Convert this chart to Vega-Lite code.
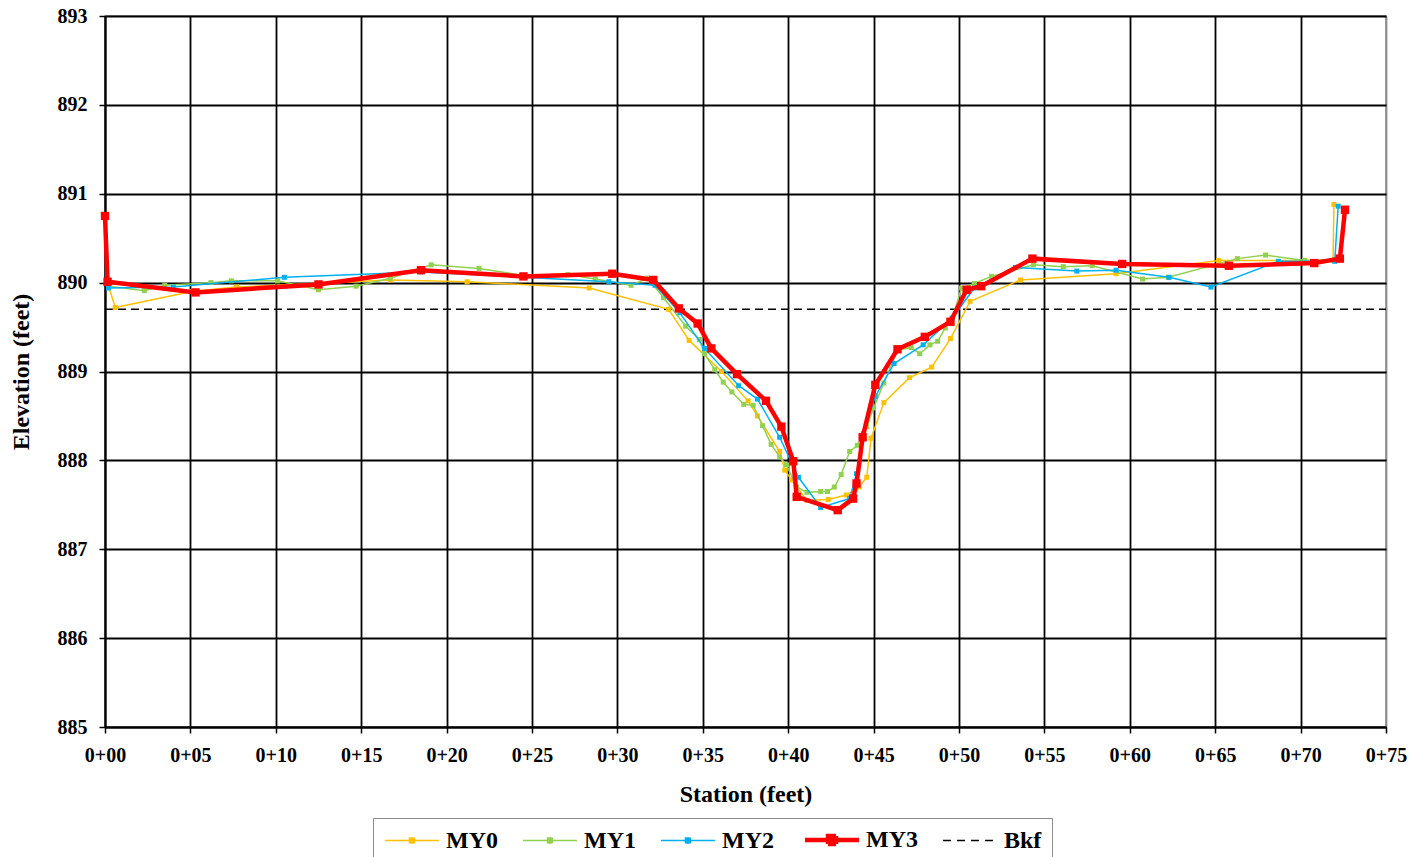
{
  "$schema": "https://vega.github.io/schema/vega-lite/v6.json",
  "width": 1281,
  "height": 711,
  "autosize": {"type": "none"},
  "padding": {"left": 105, "top": 16, "right": 40, "bottom": 130},
  "background": "white",
  "config": {
    "view": {"stroke": "#8c8c8c", "strokeWidth": 1.5},
    "font": "Liberation Serif"
  },
  "data": {
    "values": [
      {"s": "Bkf", "x": 0, "y": 889.7},
      {"s": "Bkf", "x": 75, "y": 889.7},

      {"s": "MY0", "x": 0, "y": 890.75},
      {"s": "MY0", "x": 0.2, "y": 889.97},
      {"s": "MY0", "x": 0.6, "y": 889.72},
      {"s": "MY0", "x": 5.07, "y": 889.9},
      {"s": "MY0", "x": 7.7, "y": 889.95},
      {"s": "MY0", "x": 16.7, "y": 890.03},
      {"s": "MY0", "x": 21.2, "y": 890.01},
      {"s": "MY0", "x": 28.35, "y": 889.94},
      {"s": "MY0", "x": 33.0, "y": 889.7},
      {"s": "MY0", "x": 34.2, "y": 889.35},
      {"s": "MY0", "x": 36.1, "y": 889.0},
      {"s": "MY0", "x": 37.65, "y": 888.67},
      {"s": "MY0", "x": 38.2, "y": 888.5},
      {"s": "MY0", "x": 39.5, "y": 888.1},
      {"s": "MY0", "x": 39.8, "y": 887.89},
      {"s": "MY0", "x": 40.2, "y": 887.78},
      {"s": "MY0", "x": 41.1, "y": 887.55},
      {"s": "MY0", "x": 42.35, "y": 887.56},
      {"s": "MY0", "x": 43.4, "y": 887.61},
      {"s": "MY0", "x": 44.15, "y": 887.7},
      {"s": "MY0", "x": 44.6, "y": 887.81},
      {"s": "MY0", "x": 44.85, "y": 888.25},
      {"s": "MY0", "x": 45.6, "y": 888.65},
      {"s": "MY0", "x": 47.1, "y": 888.93},
      {"s": "MY0", "x": 48.4, "y": 889.05},
      {"s": "MY0", "x": 49.5, "y": 889.37},
      {"s": "MY0", "x": 50.65, "y": 889.79},
      {"s": "MY0", "x": 53.6, "y": 890.03},
      {"s": "MY0", "x": 59.2, "y": 890.1},
      {"s": "MY0", "x": 65.2, "y": 890.25},
      {"s": "MY0", "x": 71.9, "y": 890.25},
      {"s": "MY0", "x": 71.95, "y": 890.88},

      {"s": "MY1", "x": 0, "y": 890.75},
      {"s": "MY1", "x": 0.2, "y": 889.96},
      {"s": "MY1", "x": 2.3, "y": 889.91},
      {"s": "MY1", "x": 3.5, "y": 889.97},
      {"s": "MY1", "x": 6.2, "y": 890.0},
      {"s": "MY1", "x": 7.4, "y": 890.02},
      {"s": "MY1", "x": 10.1, "y": 890.02},
      {"s": "MY1", "x": 12.5, "y": 889.92},
      {"s": "MY1", "x": 14.7, "y": 889.96},
      {"s": "MY1", "x": 16.7, "y": 890.05},
      {"s": "MY1", "x": 19.1, "y": 890.2},
      {"s": "MY1", "x": 21.9, "y": 890.16},
      {"s": "MY1", "x": 24.5, "y": 890.08},
      {"s": "MY1", "x": 27.1, "y": 890.09},
      {"s": "MY1", "x": 28.7, "y": 890.04},
      {"s": "MY1", "x": 30.8, "y": 889.97},
      {"s": "MY1", "x": 31.8, "y": 890.05},
      {"s": "MY1", "x": 32.7, "y": 889.83},
      {"s": "MY1", "x": 34.0, "y": 889.51},
      {"s": "MY1", "x": 34.8, "y": 889.36},
      {"s": "MY1", "x": 35.1, "y": 889.2},
      {"s": "MY1", "x": 35.7, "y": 889.02},
      {"s": "MY1", "x": 36.2, "y": 888.88},
      {"s": "MY1", "x": 36.7, "y": 888.77},
      {"s": "MY1", "x": 37.4, "y": 888.63},
      {"s": "MY1", "x": 37.95, "y": 888.62},
      {"s": "MY1", "x": 38.5, "y": 888.39},
      {"s": "MY1", "x": 39.0, "y": 888.18},
      {"s": "MY1", "x": 39.5, "y": 888.04},
      {"s": "MY1", "x": 39.9, "y": 887.95},
      {"s": "MY1", "x": 40.5, "y": 887.7},
      {"s": "MY1", "x": 41.1, "y": 887.64},
      {"s": "MY1", "x": 41.9, "y": 887.65},
      {"s": "MY1", "x": 42.3, "y": 887.65},
      {"s": "MY1", "x": 42.7, "y": 887.7},
      {"s": "MY1", "x": 43.1, "y": 887.84},
      {"s": "MY1", "x": 43.6, "y": 888.1},
      {"s": "MY1", "x": 44.05, "y": 888.17},
      {"s": "MY1", "x": 44.6, "y": 888.38},
      {"s": "MY1", "x": 45.0, "y": 888.59},
      {"s": "MY1", "x": 45.6, "y": 888.87},
      {"s": "MY1", "x": 46.4, "y": 889.24},
      {"s": "MY1", "x": 47.2, "y": 889.27},
      {"s": "MY1", "x": 47.7, "y": 889.2},
      {"s": "MY1", "x": 48.3, "y": 889.3},
      {"s": "MY1", "x": 48.75, "y": 889.34},
      {"s": "MY1", "x": 49.2, "y": 889.49},
      {"s": "MY1", "x": 49.6, "y": 889.6},
      {"s": "MY1", "x": 50.15, "y": 889.94},
      {"s": "MY1", "x": 50.9, "y": 889.99},
      {"s": "MY1", "x": 51.9, "y": 890.07},
      {"s": "MY1", "x": 54.35, "y": 890.2},
      {"s": "MY1", "x": 56.1, "y": 890.18},
      {"s": "MY1", "x": 57.8, "y": 890.19},
      {"s": "MY1", "x": 60.75, "y": 890.04},
      {"s": "MY1", "x": 62.25, "y": 890.06},
      {"s": "MY1", "x": 66.3, "y": 890.27},
      {"s": "MY1", "x": 67.95, "y": 890.31},
      {"s": "MY1", "x": 70.25, "y": 890.25},
      {"s": "MY1", "x": 72.0, "y": 890.26},

      {"s": "MY2", "x": 0, "y": 890.75},
      {"s": "MY2", "x": 0.2, "y": 889.94},
      {"s": "MY2", "x": 4.0, "y": 889.95},
      {"s": "MY2", "x": 10.5, "y": 890.06},
      {"s": "MY2", "x": 18.5, "y": 890.12},
      {"s": "MY2", "x": 24.5, "y": 890.06},
      {"s": "MY2", "x": 29.5, "y": 890.01},
      {"s": "MY2", "x": 32.2, "y": 889.97},
      {"s": "MY2", "x": 33.66, "y": 889.66},
      {"s": "MY2", "x": 35.1, "y": 889.26},
      {"s": "MY2", "x": 37.1, "y": 888.84},
      {"s": "MY2", "x": 38.2, "y": 888.69},
      {"s": "MY2", "x": 39.5, "y": 888.26},
      {"s": "MY2", "x": 40.6, "y": 887.81},
      {"s": "MY2", "x": 41.9, "y": 887.47},
      {"s": "MY2", "x": 43.6, "y": 887.57},
      {"s": "MY2", "x": 44.0, "y": 887.85},
      {"s": "MY2", "x": 44.4, "y": 888.3},
      {"s": "MY2", "x": 45.1, "y": 888.72},
      {"s": "MY2", "x": 46.2, "y": 889.09},
      {"s": "MY2", "x": 47.9, "y": 889.3},
      {"s": "MY2", "x": 49.6, "y": 889.6},
      {"s": "MY2", "x": 50.9, "y": 889.94},
      {"s": "MY2", "x": 53.3, "y": 890.17},
      {"s": "MY2", "x": 56.9, "y": 890.13},
      {"s": "MY2", "x": 59.2, "y": 890.14},
      {"s": "MY2", "x": 62.3, "y": 890.06},
      {"s": "MY2", "x": 64.75, "y": 889.95},
      {"s": "MY2", "x": 68.7, "y": 890.24},
      {"s": "MY2", "x": 72.0, "y": 890.24},
      {"s": "MY2", "x": 72.2, "y": 890.86},

      {"s": "MY3", "x": 0, "y": 890.75},
      {"s": "MY3", "x": 0.15, "y": 890.01},
      {"s": "MY3", "x": 5.3, "y": 889.89},
      {"s": "MY3", "x": 12.5, "y": 889.98},
      {"s": "MY3", "x": 18.5, "y": 890.14},
      {"s": "MY3", "x": 24.5, "y": 890.07},
      {"s": "MY3", "x": 29.7, "y": 890.1},
      {"s": "MY3", "x": 32.1, "y": 890.03},
      {"s": "MY3", "x": 33.6, "y": 889.71},
      {"s": "MY3", "x": 34.7, "y": 889.54},
      {"s": "MY3", "x": 35.5, "y": 889.26},
      {"s": "MY3", "x": 37.0, "y": 888.97},
      {"s": "MY3", "x": 38.7, "y": 888.67},
      {"s": "MY3", "x": 39.6, "y": 888.38},
      {"s": "MY3", "x": 40.3, "y": 887.99},
      {"s": "MY3", "x": 40.5, "y": 887.59},
      {"s": "MY3", "x": 42.9, "y": 887.44},
      {"s": "MY3", "x": 43.8, "y": 887.57},
      {"s": "MY3", "x": 44.0, "y": 887.74},
      {"s": "MY3", "x": 44.36, "y": 888.26},
      {"s": "MY3", "x": 45.1, "y": 888.85},
      {"s": "MY3", "x": 46.4, "y": 889.25},
      {"s": "MY3", "x": 48.0, "y": 889.39},
      {"s": "MY3", "x": 49.5, "y": 889.56},
      {"s": "MY3", "x": 50.45, "y": 889.92},
      {"s": "MY3", "x": 51.3, "y": 889.96},
      {"s": "MY3", "x": 54.3, "y": 890.27},
      {"s": "MY3", "x": 59.55, "y": 890.21},
      {"s": "MY3", "x": 65.8, "y": 890.19},
      {"s": "MY3", "x": 70.8, "y": 890.22},
      {"s": "MY3", "x": 72.3, "y": 890.27},
      {"s": "MY3", "x": 72.6, "y": 890.82}
    ]
  },
  "encoding": {
    "x": {
      "field": "x",
      "type": "quantitative",
      "scale": {"domain": [0, 75], "nice": false, "zero": false},
      "axis": {
        "title": "Station (feet)",
        "values": [0, 5, 10, 15, 20, 25, 30, 35, 40, 45, 50, 55, 60, 65, 70, 75],
        "labelExpr": "'0+' + (datum.value < 10 ? '0' : '') + datum.value",
        "labelFont": "Liberation Serif",
        "labelFontSize": 20,
        "labelFontWeight": "bold",
        "labelColor": "black",
        "labelPadding": 12,
        "labelFlush": false,
        "tickColor": "black",
        "tickSize": 6,
        "tickWidth": 1.5,
        "domainColor": "black",
        "domainWidth": 2,
        "grid": true,
        "gridColor": {"condition": {"test": "datum.value === 75", "value": "#8c8c8c"}, "value": "black"},
        "gridWidth": 1.8,
        "titleFont": "Liberation Serif",
        "titleFontSize": 24,
        "titleFontWeight": "bold",
        "titleColor": "black",
        "titlePadding": 17
      }
    },
    "y": {
      "field": "y",
      "type": "quantitative",
      "scale": {"domain": [885, 893], "nice": false, "zero": false},
      "axis": {
        "title": "Elevation (feet)",
        "values": [885, 886, 887, 888, 889, 890, 891, 892, 893],
        "labelFont": "Liberation Serif",
        "labelFontSize": 20,
        "labelFontWeight": "bold",
        "labelColor": "black",
        "labelPadding": 12,
        "labelFlush": false,
        "tickColor": "black",
        "tickSize": 6,
        "tickWidth": 1.5,
        "domainColor": "black",
        "domainWidth": 2,
        "grid": true,
        "gridColor": "black",
        "gridWidth": 1.8,
        "titleFont": "Liberation Serif",
        "titleFontSize": 24,
        "titleFontWeight": "bold",
        "titleColor": "black",
        "titlePadding": 24
      }
    },
    "color": {
      "field": "s",
      "type": "nominal",
      "scale": {
        "domain": ["MY0", "MY1", "MY2", "MY3", "Bkf"],
        "range": ["#FFC000", "#92D050", "#00B0F0", "#FF0000", "#000000"]
      },
      "legend": {
        "title": null,
        "orient": "none",
        "legendX": 268,
        "legendY": 802,
        "direction": "horizontal",
        "strokeColor": "#8c8c8c",
        "padding": 10,
        "symbolSize": 400,
        "symbolType": "M-2.7,0L2.7,0",
        "symbolStrokeWidth": 1.5,
        "symbolOffset": 17,
        "labelOffset": 22,
        "columnPadding": 22,
        "labelFont": "Liberation Serif",
        "labelFontSize": 24,
        "labelFontWeight": "bold",
        "labelColor": "black",
        "encode": {
          "symbols": {
            "update": {
              "shape": {"signal": "datum.value === 'Bkf' ? 'M-2.7,0L2.7,0' : (datum.value === 'MY3' ? 'M-2.7,0L2.7,0M-0.4,-0.4L0.4,-0.4L0.4,0.4L-0.4,0.4Z' : 'M-2.7,0L2.7,0M-0.25,-0.25L0.25,-0.25L0.25,0.25L-0.25,0.25Z')"},
              "strokeWidth": {"signal": "datum.value === 'MY3' ? 4.5 : 1.5"},
              "strokeDash": {"signal": "datum.value === 'Bkf' ? [8, 6] : [1, 0]"},
              "fill": {"signal": "datum.value === 'Bkf' ? 'transparent' : scale('color', datum.value)"}
            }
          }
        }
      }
    }
  },
  "layer": [
    {
      "transform": [{"filter": "datum.s === 'Bkf'"}],
      "mark": {"type": "line", "strokeWidth": 1.4, "strokeDash": [8, 5]}
    },
    {
      "transform": [{"filter": "datum.s === 'MY0'"}],
      "mark": {"type": "line", "strokeWidth": 1.5, "point": {"shape": "square", "size": 25, "filled": true, "opacity": 1}}
    },
    {
      "transform": [{"filter": "datum.s === 'MY1'"}],
      "mark": {"type": "line", "strokeWidth": 1.5, "point": {"shape": "square", "size": 25, "filled": true, "opacity": 1}}
    },
    {
      "transform": [{"filter": "datum.s === 'MY2'"}],
      "mark": {"type": "line", "strokeWidth": 1.5, "point": {"shape": "square", "size": 25, "filled": true, "opacity": 1}}
    },
    {
      "transform": [{"filter": "datum.s === 'MY3'"}],
      "mark": {"type": "line", "strokeWidth": 4.5, "point": {"shape": "square", "size": 70, "filled": true, "opacity": 1}}
    }
  ]
}
